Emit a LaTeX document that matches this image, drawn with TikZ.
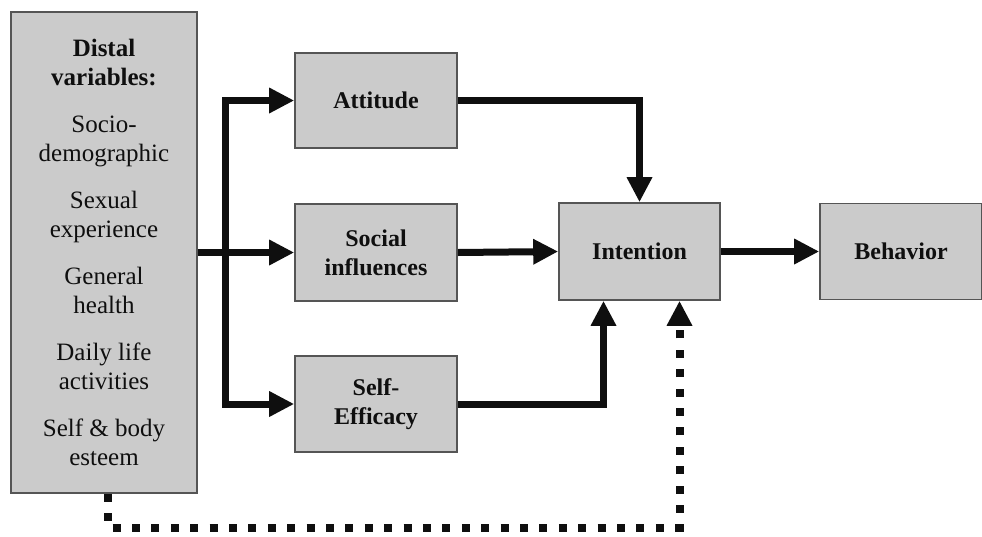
\documentclass[tikz,border=0pt]{standalone}
\usepackage{fontspec}
\setmainfont{Liberation Serif}
\definecolor{boxgray}{RGB}{203, 203, 203}
\definecolor{edgegray}{RGB}{85, 85, 85}
\definecolor{inkblack}{RGB}{15, 15, 15}
\usepackage{tikz}
\usetikzlibrary{arrows.meta, positioning}

\begin{document}
\begin{tikzpicture}[x=1pt, y=-1pt,
    varbox/.style={draw=edgegray, fill=boxgray, line width=1.6pt, inner sep=0pt,
      align=center, font=\fontsize{24}{29}\selectfont\bfseries, text=inkblack},
    flow/.style={line width=7pt, draw=inkblack,
      -{Triangle[length=25pt, width=24pt]}},
    dotflow/.style={line width=8pt, draw=inkblack, dash pattern=on 8pt off 11.4pt,
      -{Triangle[length=25pt, width=24pt]}}]
  \useasboundingbox (0, 0) rectangle (982, 536);

  % Distal variables
  \node[varbox, minimum width=186pt, minimum height=481pt,
    font=\fontsize{25}{28.5}\selectfont] (distal) at (104, 252.5) {
    \textbf{Distal}\\ \textbf{variables:}\\[19pt]
    Socio-\\ demographic\\[19pt]
    Sexual\\ experience\\[19pt]
    General\\ health\\[19pt]
    Daily life\\ activities\\[19pt]
    Self \& body\\ esteem};

  % Proximal determinants
  \node[varbox, minimum width=162pt, minimum height=95pt] (att) at (376, 100.5) {Attitude};
  \node[varbox, minimum width=162pt, minimum height=97pt] (soc) at (376, 252.5) {Social\\ influences};
  \node[varbox, minimum width=162pt, minimum height=96pt] (eff) at (376, 404) {Self-\\ Efficacy};

  % Intention and behavior
  \node[varbox, minimum width=161pt, minimum height=97pt] (intent) at (639.5, 251.5) {Intention};
  \node[varbox, minimum width=162pt, minimum height=96pt] (behav) at (901, 251.5) {Behavior};

  % Arrows from distal variables
  \coordinate (split) at (225, 252.5);
  \draw[flow] (distal.east) -- (soc.west);
  \draw[flow] (split) |- (att.west);
  \draw[flow] (split) |- (eff.west);

  % Arrows into intention
  \draw[flow] (att.east) -| (intent.north);
  \draw[flow] (soc.east) -- (intent.west);
  \draw[flow] (eff.east) -| ([xshift=-36pt]intent.south);
  \draw[flow] (intent.east) -- (behav.west);

  % Direct effect (dotted)
  \coordinate (loop) at (108, 528);
  \draw[dotflow] (distal.south -| loop) -- (loop) -| ([xshift=40pt]intent.south);
\end{tikzpicture}
\end{document}
